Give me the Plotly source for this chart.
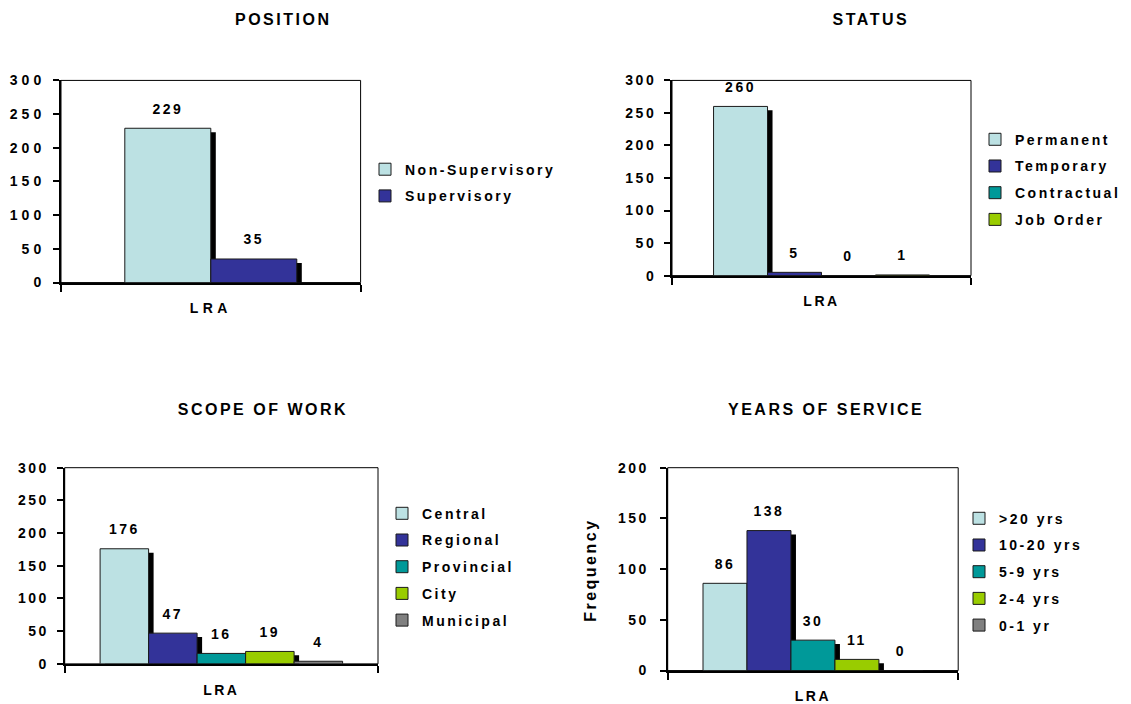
import plotly.graph_objects as go

W, H = 1131, 704

# ---------------- data ----------------
categories = ["LRA"]

position_labels = ["Non-Supervisory", "Supervisory"]
position_values = [229, 35]

status_labels = ["Permanent", "Temporary", "Contractual", "Job Order"]
status_values = [260, 5, 0, 1]

scope_labels = ["Central", "Regional", "Provincial", "City", "Municipal"]
scope_values = [176, 47, 16, 19, 4]

years_labels = [">20 yrs", "10-20 yrs", "5-9 yrs", "2-4 yrs", "0-1 yr"]
years_values = [86, 138, 30, 11, 0]

ticks_300 = [0, 50, 100, 150, 200, 250, 300]
ticks_200 = [0, 50, 100, 150, 200]

titles = ["POSITION", "STATUS", "SCOPE OF WORK", "YEARS OF SERVICE"]

# ---------------- style ----------------
colors = ["#BCE1E3", "#333399", "#009999", "#99CC00", "#808080"]
FONT = "Liberation Sans"


def vy(y):
    """vertical page position (px) -> position used in the figure"""
    return (y - 7.4) / 0.977


# panel geometry in pixels: plot left, right, top, zero-line
panels = [
    dict(labels=position_labels, values=position_values, ticks=ticks_300,
         box=(61, 360.6, 80, 282.7), group=0.574, leg=(405, 170), title=(283, 19),
         ytitle=None, ystand=5),
    dict(labels=status_labels, values=status_values, ticks=ticks_300,
         box=(672, 971, 80, 275.7), group=0.722, leg=(1015, 140), title=(871, 19),
         ytitle=None, ystand=5),
    dict(labels=scope_labels, values=scope_values, ticks=ticks_300,
         box=(64.7, 378, 468.3, 665), group=0.774, leg=(422, 515), title=(263, 410),
         ytitle=None, ystand=5),
    dict(labels=years_labels, values=years_values, ticks=ticks_200,
         box=(667.7, 958.2, 468.3, 671.7), group=0.757, leg=(999, 520), title=(826, 410),
         ytitle=("Frequency", 590.5, 571), ystand=8),
]

SHADOW_DX_PX = 5
SHADOW_DY_PX = 4
LABEL_MARKER = 16
LEGEND_ITEM_OFFSET = 17

fig = go.Figure()
layout = dict(
    width=W, height=H, margin=dict(l=0, r=0, t=0, b=0),
    paper_bgcolor="white", plot_bgcolor="white",
    barmode="overlay", showlegend=True,
    font=dict(family=FONT, size=14, color="black", weight=700),
)
annotations = []
shapes = []

positions = list(range(len(categories)))

for k, p in enumerate(panels):
    idx = "" if k == 0 else str(k + 1)
    xa, ya = "x" + idx, "y" + idx
    leg = "legend" + idx
    x0, x1, yt, yz = p["box"]
    yt, yz = vy(yt), vy(yz)
    ymax = p["ticks"][-1]
    pw = x1 - x0
    ph = yz - yt
    n = len(p["values"])
    w = p["group"] / n
    dx = SHADOW_DX_PX / pw
    dy = SHADOW_DY_PX * ymax / ph

    # shadows first
    for i, v in enumerate(p["values"]):
        off = -p["group"] / 2 + i * w
        fig.add_trace(go.Bar(
            x=positions, y=[v], base=-dy, width=w, offset=off + dx,
            marker=dict(color="black", line=dict(width=0)),
            showlegend=False, hoverinfo="skip", xaxis=xa, yaxis=ya, legend=leg,
        ))
    # bars
    for i, (lab, v) in enumerate(zip(p["labels"], p["values"])):
        off = -p["group"] / 2 + i * w
        fig.add_trace(go.Bar(
            x=positions, y=[v], width=w, offset=off, name=lab,
            marker=dict(color=colors[i], line=dict(color="#1a1a1a", width=1)),
            xaxis=xa, yaxis=ya, legend=leg, legendgroup=f"g{k}_{i}",
        ))
    # value labels
    for i, v in enumerate(p["values"]):
        off = -p["group"] / 2 + i * w
        fig.add_trace(go.Scatter(
            x=[positions[0] + off + w / 2], y=[v], mode="markers+text",
            text=[str(v)], textposition="top center",
            marker=dict(size=LABEL_MARKER, opacity=0),
            textfont=dict(family=FONT, size=14, color="black", weight=700),
            cliponaxis=False, showlegend=False, hoverinfo="skip",
            xaxis=xa, yaxis=ya,
        ))

    layout["xaxis" + idx] = dict(
        domain=[x0 / W, x1 / W], range=[-0.5, len(categories) - 0.5],
        tickmode="array", tickvals=positions, ticktext=categories, ticks="",
        showline=True, linecolor="black", linewidth=2, showgrid=False, zeroline=False,
        tickfont=dict(family=FONT, size=14, color="black", weight=700),
        ticklabelstandoff=12,
        minor=dict(tickmode="array", tickvals=[-0.5, len(categories) - 0.5],
                   ticks="outside", ticklen=7, tickwidth=1.5, tickcolor="black", showgrid=False),
        anchor=ya, fixedrange=True,
    )
    layout["yaxis" + idx] = dict(
        domain=[1 - yz / H, 1 - yt / H], range=[0, ymax],
        tickmode="array", tickvals=p["ticks"], ticks="outside", ticklen=6,
        tickwidth=1.5, tickcolor="black",
        showline=True, linecolor="black", linewidth=2, showgrid=False, zeroline=False,
        tickfont=dict(family=FONT, size=14, color="black", weight=700),
        ticklabelstandoff=p["ystand"],
        anchor=xa, fixedrange=True,
    )
    shapes.append(dict(type="rect", xref=xa + " domain", yref=ya + " domain",
                       x0=0, x1=1, y0=0, y1=1, line=dict(color="black", width=1),
                       layer="below"))
    lx, ly = p["leg"]
    layout[leg] = dict(
        x=(lx - 40) / W, y=1 - (vy(ly) - LEGEND_ITEM_OFFSET) / H,
        xanchor="left", yanchor="top",
        bgcolor="rgba(0,0,0,0)", borderwidth=0,
        font=dict(family=FONT, size=14, color="black", weight=700),
        traceorder="grouped", tracegroupgap=5.5,
    )
    tx, ty = p["title"]
    annotations.append(dict(
        text=titles[k], xref="paper", yref="paper", x=tx / W, y=1 - vy(ty) / H,
        xanchor="center", yanchor="middle", showarrow=False,
        font=dict(family=FONT, size=16, color="black", weight=700),
    ))
    if p["ytitle"]:
        t, ax_, ay_ = p["ytitle"]
        annotations.append(dict(
            text=t, xref="paper", yref="paper", x=ax_ / W, y=1 - vy(ay_) / H,
            xanchor="center", yanchor="middle", showarrow=False, textangle=-90,
            font=dict(family=FONT, size=16, color="black", weight=700),
        ))

layout["annotations"] = annotations
layout["shapes"] = shapes
fig.update_layout(**layout)

css = (
    "html,body{margin:0;padding:0;width:1131px;height:704px;overflow:hidden}"
    ".main-svg text{letter-spacing:2.5px}"
    ".annotation-text{letter-spacing:2.4px}"
    ".legendtext{letter-spacing:3.6px}"
    ".xtick text{letter-spacing:4.5px}"
    ".subplot.xy .ytick text,.subplot.x2y2 .ytick text,.subplot.x3y3 .ytick text{letter-spacing:4px}"
    ".subplot.x4y4 .ytick text{letter-spacing:1.5px}"
)
post = (
    "var gd=document.getElementById('{plot_id}');"
    "var s=document.createElement('style');"
    "s.innerHTML='" + css + "';"
    "document.head.appendChild(s);"
    "gd.style.position='absolute';gd.style.left='0px';gd.style.top='0px';"
    "gd.querySelectorAll('.infolayer [clip-path]').forEach(function(e){e.removeAttribute('clip-path');});"
)
fig.write_html("out.html", post_script=post, config={"displayModeBar": False})
